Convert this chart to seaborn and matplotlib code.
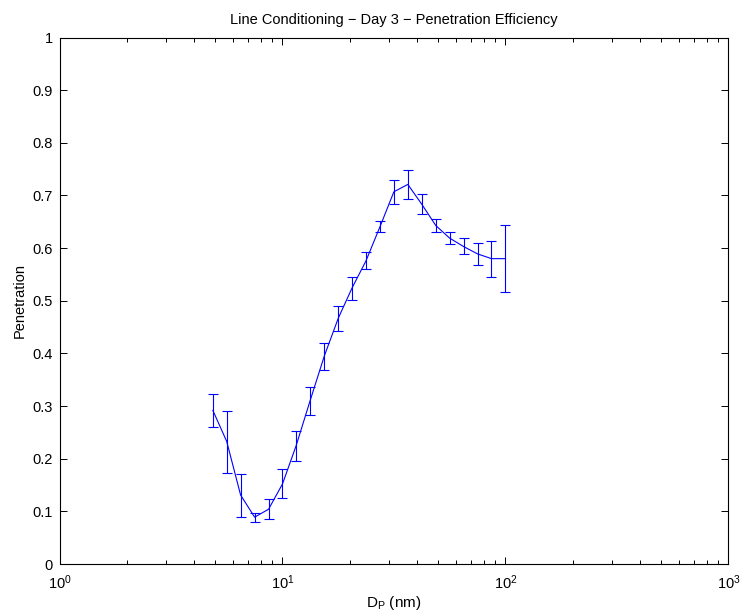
import matplotlib
matplotlib.use("Agg")
import matplotlib.pyplot as plt
import seaborn as sns
import numpy as np
import pandas as pd
from matplotlib.ticker import LogLocator, FixedLocator

# Data
diameter_nm = [4.87, 5.62, 6.49, 7.50, 8.66, 10.0, 11.5, 13.3, 15.4, 17.8, 20.5,
               23.7, 27.4, 31.6, 36.5, 42.2, 48.7, 56.2, 64.9, 75.0, 86.6, 100.0]
penetration = [0.292, 0.233, 0.131, 0.089, 0.104, 0.152, 0.224, 0.310, 0.395, 0.467, 0.524,
               0.576, 0.641, 0.707, 0.721, 0.683, 0.643, 0.619, 0.603, 0.589, 0.580, 0.580]
err_upper = [0.323, 0.291, 0.171, 0.096, 0.123, 0.180, 0.252, 0.337, 0.420, 0.491, 0.545,
             0.592, 0.651, 0.729, 0.748, 0.702, 0.655, 0.631, 0.619, 0.610, 0.613, 0.643]
err_lower = [0.261, 0.172, 0.090, 0.080, 0.085, 0.125, 0.196, 0.283, 0.369, 0.443, 0.502,
             0.560, 0.630, 0.684, 0.694, 0.664, 0.630, 0.607, 0.588, 0.567, 0.546, 0.517]
y_ticks = [0, 0.1, 0.2, 0.3, 0.4, 0.5, 0.6, 0.7, 0.8, 0.9, 1]
y_tick_labels = ["0", "0.1", "0.2", "0.3", "0.4", "0.5", "0.6", "0.7", "0.8", "0.9", "1"]

sns.set_style("white")
plt.rcParams['font.family'] = ['Liberation Sans', 'DejaVu Sans']
plt.rcParams['mathtext.fontset'] = 'custom'
plt.rcParams['mathtext.rm'] = 'Liberation Sans'
plt.rcParams['text.color'] = 'black'
plt.rcParams['axes.labelcolor'] = 'black'

df = pd.DataFrame({"Dp": diameter_nm, "P": penetration})

fig = plt.figure(figsize=(7.44, 6.14), dpi=100)
ax = fig.add_axes([0.080, 0.0814, 0.899, 0.8575])

sns.lineplot(data=df, x="Dp", y="P", ax=ax, color=(0, 0, 1), linewidth=0.8)
yerr = [np.array(penetration) - np.array(err_lower), np.array(err_upper) - np.array(penetration)]
ax.errorbar(diameter_nm, penetration, yerr=yerr, fmt='none', ecolor=(0, 0, 1),
            elinewidth=0.8, capsize=3.3, capthick=0.8)

ax.set_xscale('log')
ax.set_xlim(1, 1000)
ax.set_ylim(0, 1)
ax.yaxis.set_major_locator(FixedLocator(y_ticks))
ax.set_yticklabels(y_tick_labels)
ax.xaxis.set_major_locator(LogLocator(base=10, numticks=10))
ax.xaxis.set_minor_locator(LogLocator(base=10, subs=np.arange(2, 10), numticks=20))

ax.tick_params(axis='both', which='both', direction='in', top=True, right=True,
               bottom=True, left=True, colors='black', labelcolor='black',
               labelsize=10.5, width=0.7)
ax.tick_params(which='major', length=5)
ax.tick_params(which='minor', length=3)
ax.tick_params(axis='x', which='major', pad=7)
ax.tick_params(axis='y', which='major', pad=5)
for s in ax.spines.values():
    s.set_visible(True)
    s.set_color('black')
    s.set_linewidth(0.8)

ax.set_title("Line Conditioning \u2212 Day 3 \u2212 Penetration Efficiency", fontsize=10.5,
             pad=10, color='black')
ax.set_xlabel(r"D$_\mathregular{P}$ (nm)", fontsize=11, labelpad=1, color='black')
ax.set_ylabel("Penetration", fontsize=10.5, labelpad=4, color='black')

fig.savefig("out.png", dpi=100, facecolor='white')
